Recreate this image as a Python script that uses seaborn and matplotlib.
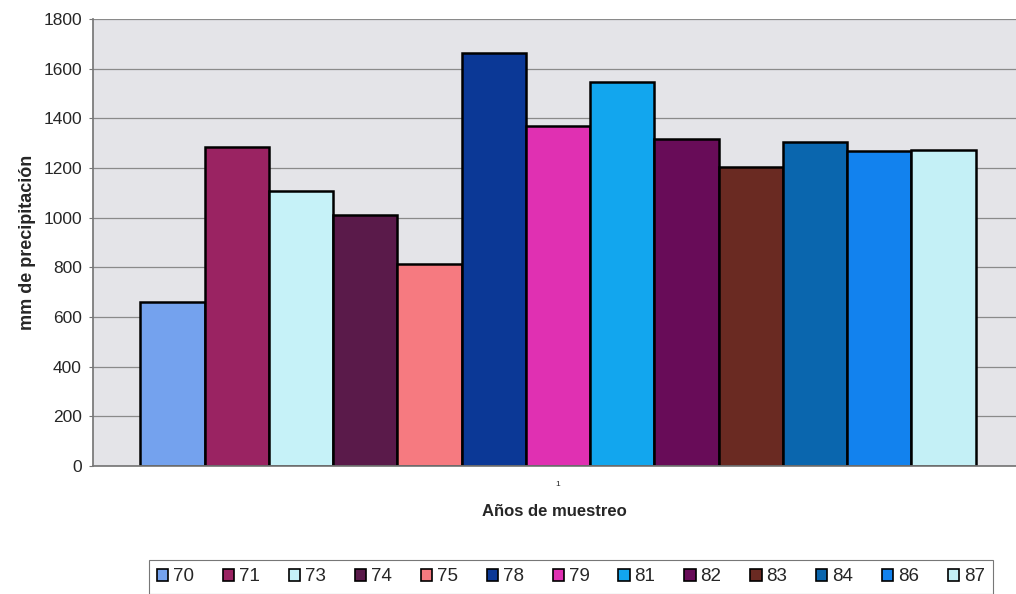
import matplotlib
matplotlib.use("Agg")
import matplotlib.pyplot as plt
import seaborn as sns
import pandas as pd
from matplotlib.patches import Patch

years = ["70", "71", "73", "74", "75", "78", "79", "81", "82", "83", "84", "86", "87"]
values = [662, 1286, 1107, 1011, 813, 1664, 1369, 1546, 1317, 1205, 1304, 1269, 1271]
colors = ["#74a2ee", "#9a2362", "#c6f2f8", "#5a1a4a", "#f67a80", "#0b3896",
          "#e030b2", "#12a6ee", "#680c58", "#6a2a22", "#0a66ae", "#1282ee", "#c4f0f6"]
category = ["1"] * len(years)
yticks = [0, 200, 400, 600, 800, 1000, 1200, 1400, 1600, 1800]

sns.set_theme(style="white")
plt.rcParams["font.family"] = ["Liberation Sans", "DejaVu Sans"]

df = pd.DataFrame({"cat": category, "year": years, "mm": values})

fig = plt.figure(figsize=(10.16, 5.94), dpi=100)
fig.patch.set_facecolor("white")
ax = fig.add_axes([93 / 1016, 1 - 466 / 594, 923 / 1016, 447 / 594])
ax.set_facecolor("#e4e4e8")

sns.barplot(data=df, x="cat", y="mm", hue="year", hue_order=years,
            palette=dict(zip(years, colors)), width=0.9, gap=0,
            edgecolor="black", linewidth=1.8, saturation=1, ax=ax, legend=False)

ax.set_ylim(0, 1800)
ax.set_xlim(-0.501, 0.4935)
ax.set_yticks(yticks)
ax.set_yticklabels([str(t) for t in yticks], fontsize=12.5)
ax.yaxis.grid(True, color="#8a8a8a", linewidth=0.9)
ax.set_axisbelow(True)
ax.tick_params(axis="y", length=3, width=0.8, color="#777777", left=True, pad=5)
ax.tick_params(axis="x", length=0, labelsize=6, pad=11)
for side in ["top", "right"]:
    ax.spines[side].set_visible(False)
ax.spines["left"].set_color("#777777")
ax.spines["bottom"].set_color("#777777")

ax.set_ylabel("mm de precipitación", fontsize=13, fontweight="bold", labelpad=5)
ax.set_xlabel("Años de muestreo", fontsize=12, fontweight="bold", labelpad=11)

handles = [Patch(facecolor=c, edgecolor="black", linewidth=1.2) for c in colors]
leg = fig.legend(handles, years, loc="upper center", bbox_to_anchor=(571 / 1016, 1 - 560 / 594),
                 ncol=len(years), fontsize=13.5, frameon=True, fancybox=False,
                 handlelength=0.6, handleheight=0.6, handletextpad=0.25,
                 columnspacing=1.55, borderpad=0.45, borderaxespad=0)
leg.get_frame().set_edgecolor("#555555")
leg.get_frame().set_linewidth(0.8)

fig.savefig("out.png", dpi=100, facecolor="white")
